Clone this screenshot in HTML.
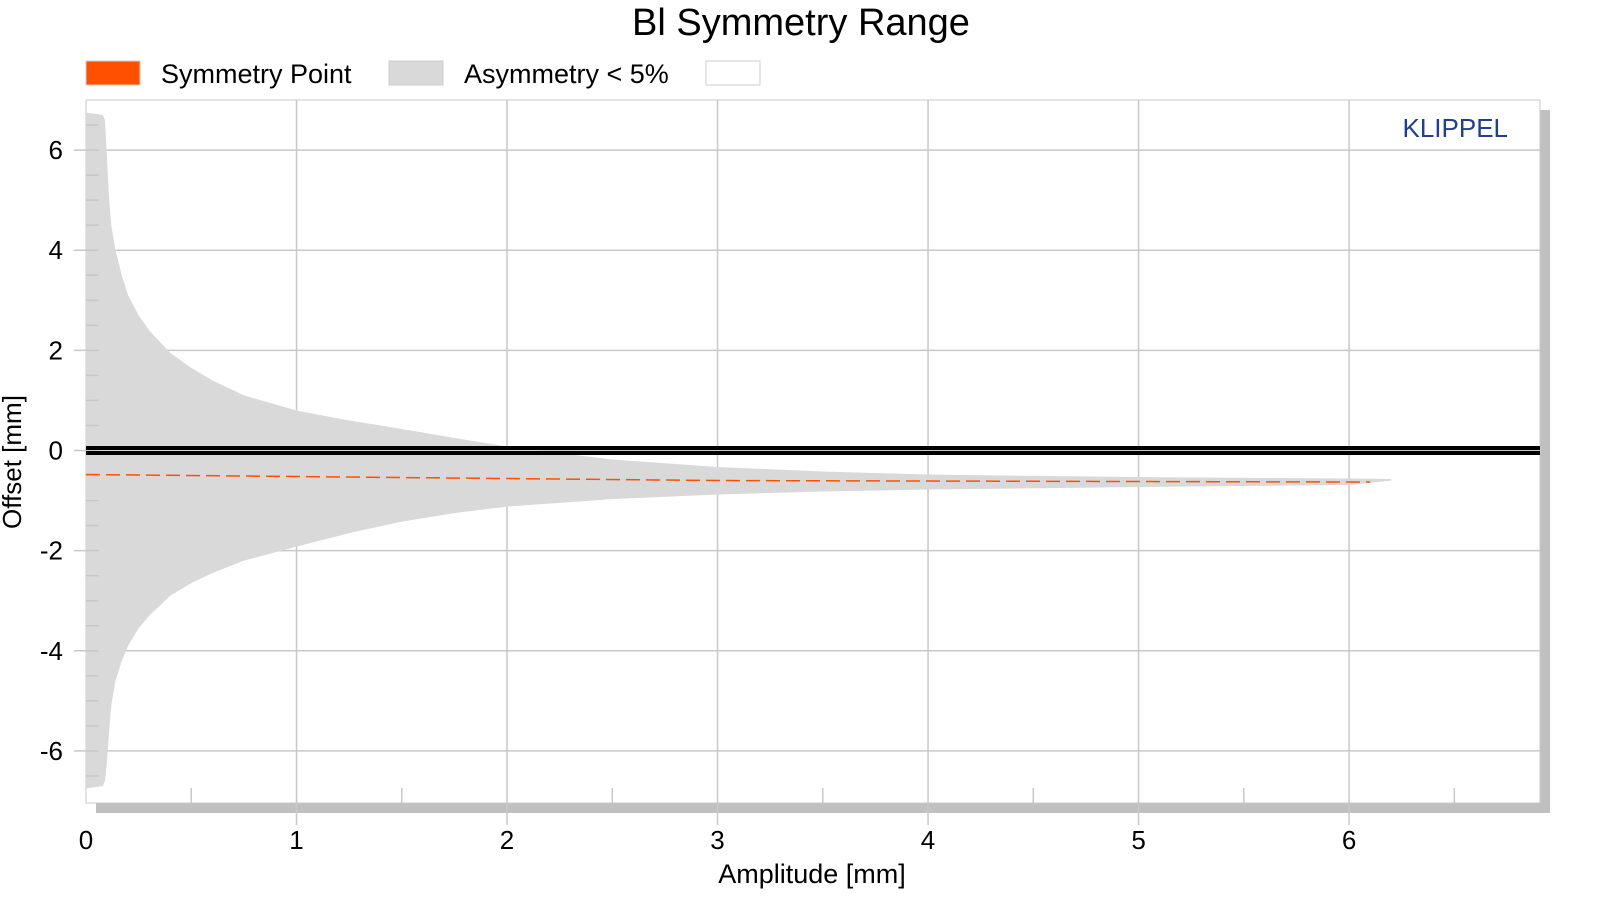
<!DOCTYPE html>
<html><head><meta charset="utf-8"><style>
body{margin:0;background:#fff;}
svg{display:block;font-family:"Liberation Sans",sans-serif;}
</style></head><body>
<svg id="chart" width="1600" height="900" viewBox="0 0 1600 900">
<text x="801" y="35" font-size="38" text-anchor="middle">Bl Symmetry Range</text>
<g>
 <rect x="86" y="61" width="54" height="24" fill="#ff5000" stroke="#ccc"/>
 <text x="161" y="83" font-size="27">Symmetry Point</text>
 <rect x="389" y="61" width="54" height="24" fill="#d9d9d9" stroke="#ccc"/>
 <text x="464" y="83" font-size="27">Asymmetry &lt; 5%</text>
 <rect x="706" y="61" width="54" height="24" fill="#fff" stroke="#ccc"/>
</g>
<rect x="96" y="803" width="1454" height="10" fill="#c0c0c0"/>
<rect x="1540" y="110" width="10" height="703" fill="#c0c0c0"/>
<rect x="86" y="100" width="1454" height="703" fill="#fff" stroke="#c8c8c8"/>
<g id="grid"></g>
<g id="marks"></g>
<text x="1508" y="137" font-size="26" fill="#1f3f8f" text-anchor="end">KLIPPEL</text>
<text x="812" y="883" font-size="27" text-anchor="middle">Amplitude [mm]</text>
<text transform="translate(21,462) rotate(-90)" font-size="26" text-anchor="middle">Offset [mm]</text>
</svg>
<script>
const xTicks=[0,1,2,3,4,5,6];
const yTicks=[-6,-4,-2,0,2,4,6];
const ampX=[0,0.08,0.09,0.1,0.11,0.12,0.14,0.17,0.2,0.25,0.3,0.4,0.5,0.6,0.75,1,1.25,1.5,1.75,2,2.5,3,3.5,4,5,6,6.2];
const upper=[6.75,6.7,6.6,5.8,5.0,4.5,4.0,3.5,3.1,2.7,2.4,1.95,1.65,1.4,1.1,0.8,0.6,0.43,0.25,0.08,-0.18,-0.33,-0.42,-0.48,-0.53,-0.56,-0.57];
const lower=[-6.75,-6.7,-6.6,-6.2,-5.6,-5.1,-4.6,-4.2,-3.9,-3.55,-3.3,-2.9,-2.65,-2.45,-2.2,-1.92,-1.65,-1.42,-1.25,-1.12,-0.97,-0.88,-0.82,-0.78,-0.73,-0.69,-0.6];
const symX=[0,1,2,3,4,5,6.1];
const symY=[-0.48,-0.52,-0.56,-0.6,-0.61,-0.62,-0.63];
const X0=86,X1=1540,Y0=100,Y1=803,XMAX=6.907,YMAX=7.0,YMIN=-7.04;
const sx=v=>X0+v/XMAX*(X1-X0);
const sy=v=>Y0+(YMAX-v)/(YMAX-YMIN)*(Y1-Y0);
const NS='http://www.w3.org/2000/svg';
function mk(tag,attrs,parent){const e=document.createElementNS(NS,tag);for(const k in attrs)e.setAttribute(k,attrs[k]);parent.appendChild(e);return e;}
const grid=document.getElementById('grid'),marks=document.getElementById('marks'),svg=document.getElementById('chart');
let pts=[];
for(let i=0;i<ampX.length;i++)pts.push(sx(ampX[i])+','+sy(upper[i]));
for(let i=ampX.length-1;i>=0;i--)pts.push(sx(ampX[i])+','+sy(lower[i]));
const area=mk('polygon',{points:pts.join(' '),fill:'#d9d9d9'},marks);


xTicks.forEach(t=>{
 if(t>0){const l=mk('line',{x1:sx(t),x2:sx(t),y1:Y0,y2:Y1+22,stroke:'#c8c8c8','stroke-width':1.5},grid);
 
 }
 const m=mk('line',{x1:sx(t+0.5),x2:sx(t+0.5),y1:Y1-15,y2:Y1,stroke:'#c8c8c8','stroke-width':1.5},grid);
 
 
 const tx=mk('text',{x:sx(t),y:Y1+46,'font-size':26,'text-anchor':'middle'},svg);
 tx.textContent=t;
 
 
});
yTicks.forEach(t=>{
 const l=mk('line',{x1:X0-12,x2:X1,y1:sy(t),y2:sy(t),stroke:'#c8c8c8','stroke-width':1.5},grid);
 
 
 const tx=mk('text',{x:63,y:sy(t)+9,'font-size':26,'text-anchor':'end'},svg);
 tx.textContent=t;
 
 
});
for(let v=-6.5;v<=6.5;v+=0.5){
 const m=mk('line',{x1:X0,x2:X0+13,y1:sy(v),y2:sy(v),stroke:'#c8c8c8','stroke-width':1.5},marks);
 
 
}
[-2.5,2.5].forEach(d=>{
 const z=mk('line',{x1:X0,x2:X1,y1:sy(0)+d,y2:sy(0)+d,stroke:'#000','stroke-width':4},marks);
 
 
});
const sp=mk('polyline',{points:symX.map((v,i)=>sx(v)+','+sy(symY[i])).join(' '),fill:'none',stroke:'#ff5000','stroke-width':1.5,'stroke-dasharray':'14,6'},marks);


</script>
</body></html>
